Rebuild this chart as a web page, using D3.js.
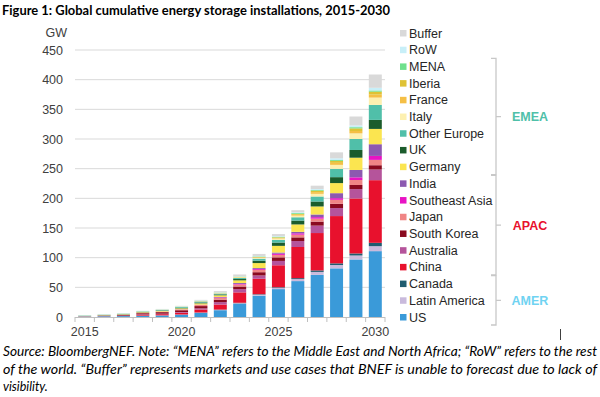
<!DOCTYPE html>
<html>
<head>
<meta charset="utf-8">
<script src="https://cdn.jsdelivr.net/npm/d3@7"></script>
<style>
  body { margin: 0; background: #fff; }
  svg { display: block; }
</style>
</head>
<body>
<svg id="chart" width="600" height="397"></svg>
<script>
// Years and series (GW cumulative), bottom of stack first
var years = d3.range(2015, 2031);
var series = ["US", "Latin America", "Canada", "China", "Australia", "South Korea", "Japan",
    "Southeast Asia", "India", "Germany", "UK", "Other Europe", "Italy", "France", "Iberia",
    "MENA", "RoW", "Buffer"];
var colors = ["#3a9ad9", "#c9badc", "#1f5c70", "#e8112d", "#b5549b", "#8a0a1f", "#f08585",
    "#e813c4", "#8c59b0", "#fbe550", "#1b5c2c", "#50bfa9", "#fdf0b0", "#f5bf45", "#dfc234",
    "#6ee08c", "#c8eff8", "#d9d9d9"];

var US = [0.8, 1.2, 1.5, 2, 2.5, 3.8, 7, 11.5, 22, 36, 47, 60.5, 71, 82, 97, 111];
var LatinAmerica = [0.1, 0.1, 0.1, 0.2, 0.2, 0.3, 0.4, 0.6, 1.2, 1.6, 2.2, 3.5, 5, 5.6, 6.7, 8.4];
var Canada = [0, 0, 0, 0.1, 0.1, 0.1, 0.2, 0.4, 0.8, 0.8, 1, 1.5, 2.5, 2.8, 3.4, 5.6];
var China = [0.1, 0.2, 0.5, 1.5, 2, 3, 5, 8.5, 17.5, 26, 37, 52.5, 63, 79.7, 92.7, 105.6];
var Australia = [0.1, 0.2, 0.3, 0.6, 0.8, 1.2, 2, 4, 5.5, 5.6, 7.3, 10, 12.5, 13.5, 15.7, 18];
var SouthKorea = [0.2, 0.5, 1, 2, 2.6, 3, 3.8, 4.2, 4.4, 5.5, 6, 6.2, 6.8, 7.2, 7, 7.2];
var Japan = [0.2, 0.3, 0.4, 0.6, 0.8, 1.2, 1.8, 3, 3.4, 4, 4.2, 4.5, 5, 6.7, 8.4, 9];
var SoutheastAsia = [0, 0, 0, 0.1, 0.1, 0.2, 0.3, 0.8, 1, 1.5, 2, 2.3, 2.5, 2.8, 4.5, 6.7];
var India = [0, 0, 0, 0, 0.1, 0.2, 0.3, 0.8, 1.5, 1.5, 2, 2.5, 4.5, 8.4, 12.4, 19.7];
var Germany = [0.3, 0.5, 0.7, 0.9, 1.2, 1.6, 2.2, 2.8, 4.5, 8.4, 11.2, 12.5, 13.5, 17, 20.7, 25.8];
var UK = [0.2, 0.3, 0.4, 0.5, 0.7, 1, 1.5, 1.5, 2.2, 4, 5.6, 6.5, 8.4, 10, 13, 15.2];
var OtherEurope = [0.4, 0.5, 0.6, 0.7, 0.9, 1.2, 1.6, 1.4, 1.7, 3.4, 4.5, 5.6, 8.4, 14, 18.5, 25.3];
var Italy = [0.1, 0.1, 0.1, 0.2, 0.2, 0.3, 0.4, 0.6, 1, 1.5, 2.3, 2.8, 4.5, 6.7, 9.5, 12.3];
var France = [0, 0.1, 0.1, 0.1, 0.1, 0.2, 0.2, 0.4, 0.5, 0.8, 1, 1.4, 2.8, 3.4, 4, 5];
var Iberia = [0, 0, 0, 0.1, 0.1, 0.1, 0.2, 0.4, 0.5, 0.7, 1, 1.4, 2.5, 3.4, 4.4, 5];
var MENA = [0.1, 0.1, 0.1, 0.2, 0.2, 0.3, 0.4, 0.3, 0.5, 0.8, 1, 1.4, 1.3, 1.5, 2, 2];
var RoW = [0.3, 0.3, 0.4, 0.4, 0.5, 0.5, 0.6, 0.7, 0.7, 0.8, 1, 1.4, 1.5, 2.8, 3, 4.5];
var Buffer = [0.2, 0.2, 0.3, 0.3, 0.5, 0.6, 1, 1.7, 2.8, 3.4, 3.5, 3.5, 5.6, 10, 15, 22.4];

var values = [US, LatinAmerica, Canada, China, Australia, SouthKorea, Japan, SoutheastAsia,
    India, Germany, UK, OtherEurope, Italy, France, Iberia, MENA, RoW, Buffer];

var yTicks = [0, 50, 100, 150, 200, 250, 300, 350, 400, 450];
var xLabels = [2015, 2020, 2025, 2030];

// Region groups: first and last legend series of each bracket
var groups = [
    { name: "EMEA", from: "MENA", to: "Germany", color: "#4fc0a9" },
    { name: "APAC", from: "India", to: "China", color: "#e8112d" },
    { name: "AMER", from: "Canada", to: "US", color: "#6fd3f2" }
];

var title = "Figure 1: Global cumulative energy storage installations, 2015-2030";
var notes = [
    "Source: BloombergNEF. Note: \u201cMENA\u201d refers to the Middle East and North Africa; \u201cRoW\u201d refers to the rest",
    "of the world. \u201cBuffer\u201d represents markets and use cases that BNEF is unable to forecast due to lack of",
    "visibility."
];

var svg = d3.select("#chart");
var axisFont = "'Liberation Sans', Arial, sans-serif";
var textFont = "Lato, 'Liberation Sans', sans-serif";

// Build table for the stack
var table = years.map(function (yr, i) {
    var row = { year: yr };
    series.forEach(function (s, j) { row[s] = values[j][i]; });
    return row;
});

var stack = d3.stack().keys(series)(table);

var x = d3.scaleBand()
    .domain(years)
    .range([75, 385])
    .paddingInner(0.33)
    .paddingOuter(0.165);

var y = d3.scaleLinear()
    .domain([0, 450])
    .range([317, 50]);

// Title
svg.append("text")
    .attr("x", 2)
    .attr("y", 15)
    .attr("font-family", textFont)
    .attr("font-weight", "bold")
    .attr("font-size", 13)
    .attr("fill", "#000")
    .attr("textLength", 388)
    .attr("lengthAdjust", "spacingAndGlyphs")
    .text(title);

// Gridlines
svg.append("g")
    .selectAll("line")
    .data(yTicks.slice(1))
    .enter()
    .append("line")
    .attr("x1", 75)
    .attr("x2", 385)
    .attr("y1", function (d) { return y(d); })
    .attr("y2", function (d) { return y(d); })
    .attr("stroke", "#d9d9d9")
    .attr("stroke-width", 1);

// Y axis labels
var yAxis = svg.append("g")
    .attr("transform", "translate(75,0)")
    .call(d3.axisLeft(y).tickValues(yTicks).tickSize(0).tickPadding(12));
yAxis.select(".domain").remove();
yAxis.selectAll("text")
    .attr("font-family", axisFont)
    .attr("font-size", 12.5)
    .attr("fill", "#404040");

svg.append("text")
    .attr("x", 67)
    .attr("y", 37)
    .attr("text-anchor", "end")
    .attr("font-family", axisFont)
    .attr("font-size", 12.5)
    .attr("fill", "#404040")
    .text("GW");

// Bars
svg.append("g")
    .selectAll("g")
    .data(stack)
    .enter()
    .append("g")
    .attr("fill", function (d, i) { return colors[i]; })
    .selectAll("rect")
    .data(function (d) { return d; })
    .enter()
    .append("rect")
    .attr("x", function (d) { return x(d.data.year); })
    .attr("width", x.bandwidth())
    .attr("y", function (d) { return y(d[1]); })
    .attr("height", function (d) { return y(d[0]) - y(d[1]); });

// X axis with ticks at band edges
var step = x.step();
var edges = years.map(function (yr) { return x(yr) - step * x.paddingInner() / 2; });
edges.push(edges[edges.length - 1] + step);

svg.append("line")
    .attr("x1", 75).attr("x2", 385)
    .attr("y1", y(0) + 0.5).attr("y2", y(0) + 0.5)
    .attr("stroke", "#bfbfbf");

svg.append("g")
    .selectAll("line")
    .data(edges)
    .enter()
    .append("line")
    .attr("x1", function (d) { return d; })
    .attr("x2", function (d) { return d; })
    .attr("y1", y(0))
    .attr("y2", y(0) + 5)
    .attr("stroke", "#bfbfbf");

svg.append("g")
    .selectAll("text")
    .data(xLabels)
    .enter()
    .append("text")
    .attr("x", function (d) { return x(d) + x.bandwidth() / 2; })
    .attr("y", 336)
    .attr("text-anchor", "middle")
    .attr("font-family", axisFont)
    .attr("font-size", 12.5)
    .attr("fill", "#404040")
    .text(function (d) { return d; });

// Legend, top item is the last series
var legendOrder = series.slice().reverse();
var legendY = d3.scalePoint()
    .domain(legendOrder)
    .range([33, 317]);

var legend = svg.append("g")
    .selectAll("g")
    .data(legendOrder)
    .enter()
    .append("g")
    .attr("transform", function (d) { return "translate(400," + legendY(d) + ")"; });

legend.append("rect")
    .attr("x", 0)
    .attr("y", -3)
    .attr("width", 6.5)
    .attr("height", 6.5)
    .attr("fill", function (d) { return colors[series.indexOf(d)]; });

legend.append("text")
    .attr("x", 9)
    .attr("y", 4.5)
    .attr("font-family", axisFont)
    .attr("font-size", 12.5)
    .attr("fill", "#262626")
    .text(function (d) { return d; });

// Region brackets
var brackets = svg.append("g")
    .selectAll("g")
    .data(groups)
    .enter()
    .append("g");

brackets.append("path")
    .attr("d", function (g) {
        var top = legendY(g.from) - 8, bottom = legendY(g.to) + 8, mid = (top + bottom) / 2;
        return "M491," + top + "H496V" + bottom + "H491M496," + mid + "H501";
    })
    .attr("fill", "none")
    .attr("stroke", "#c8c8c8")
    .attr("stroke-width", 1.3);

brackets.append("text")
    .attr("x", 530)
    .attr("y", function (g) { return (legendY(g.from) + legendY(g.to)) / 2 + 4.5; })
    .attr("text-anchor", "middle")
    .attr("font-family", axisFont)
    .attr("font-weight", "bold")
    .attr("font-size", 12.5)
    .attr("fill", function (g) { return g.color; })
    .text(function (g) { return g.name; });

// Small mark bottom right
svg.append("line")
    .attr("x1", 560.5).attr("x2", 560.5)
    .attr("y1", 329).attr("y2", 340)
    .attr("stroke", "#404040");

// Footnote
svg.append("g")
    .selectAll("text")
    .data(notes)
    .enter()
    .append("text")
    .attr("x", 3)
    .attr("y", function (d, i) { return 356 + i * 17.5; })
    .attr("font-family", textFont)
    .attr("font-style", "italic")
    .attr("font-size", 12.5)
    .attr("fill", "#000")
    .attr("textLength", function (d, i) { return i < 2 ? 594 : null; })
    .attr("lengthAdjust", "spacingAndGlyphs")
    .text(function (d) { return d; });
</script>
</body>
</html>
